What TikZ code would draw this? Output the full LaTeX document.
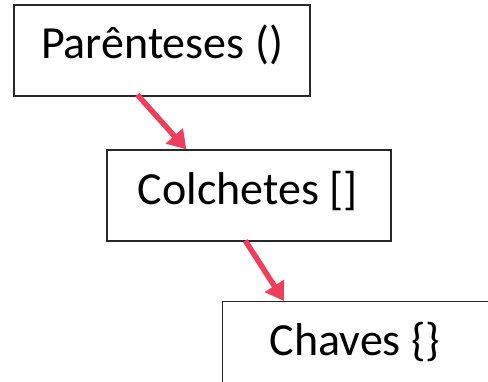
\documentclass[tikz,border=0pt]{standalone}
\usepackage{fontspec}
\setmainfont{Carlito}
\usetikzlibrary{arrows.meta}
\definecolor{arrowred}{RGB}{240,62,92}
\definecolor{boxline}{RGB}{40,40,40}
\tikzset{
  boxnode/.style={draw=boxline, line width=1.4pt, minimum width=#1, minimum height=91pt, inner sep=0pt},
  label/.style={anchor=base, font=\fontsize{46}{50}\selectfont, inner sep=0pt},
  flow/.style={draw=arrowred, line width=5.5pt, -{Triangle[length=18pt,width=22pt]}}
}
\begin{document}
\begin{tikzpicture}[x=1pt, y=-1pt]
  \useasboundingbox (0,0) rectangle (488,381);
  \clip (0,0) rectangle (488,381);
  % boxes
  \node[boxnode=296pt] (b1) at (162,50.5) {};
  \node[boxnode=284pt] (b2) at (249,195.5) {};
  \node[boxnode=290pt, anchor=north west] (b3) at (222,301) {};
  % labels
  \node[label] (t1) at (162,58) {Parênteses ()};
  \node[label] (t2) at (248,204) {Colchetes []};
  \node[label] (t3) at (355,355) {Chaves \{\}};
  % connectors
  \coordinate (s1) at ([xshift=124pt,yshift=2pt]b1.south west);
  \coordinate (e1) at ([xshift=80pt]b2.north west);
  \coordinate (s2) at ([xshift=139pt,yshift=1pt]b2.south west);
  \coordinate (e2) at ([xshift=62pt]b3.north west);
  \draw[flow] (s1) -- (e1);
  \draw[flow] (s2) -- (e2);
\end{tikzpicture}
\end{document}
